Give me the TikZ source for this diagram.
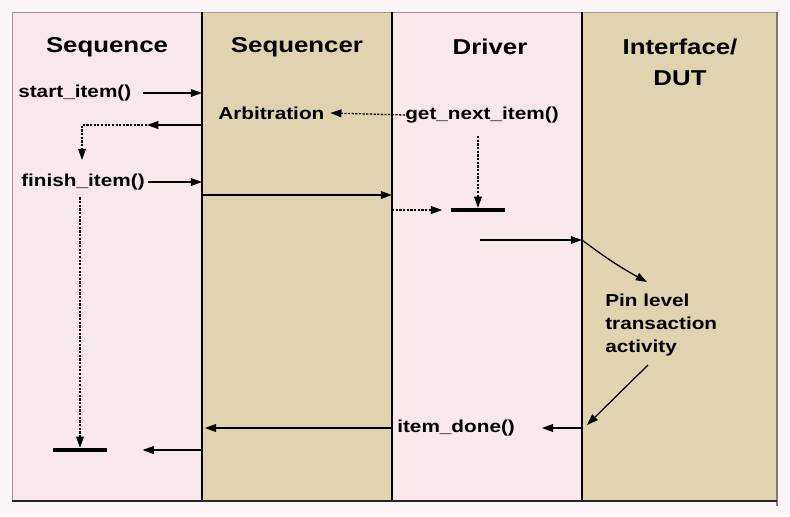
\documentclass[tikz,border=0pt]{standalone}
\usepackage{fontspec}
\setmainfont{Liberation Sans}[FakeStretch=1.2]
\usetikzlibrary{arrows.meta}

\definecolor{lanepink}{HTML}{F8E8EC}
\definecolor{lanetan}{HTML}{E0D3B0}
\definecolor{pagepink}{HTML}{FCF6F8}
\definecolor{framegray}{HTML}{A39499}

\tikzset{
  head/.style={font=\bfseries\fontsize{15.3}{22}\selectfont, inner sep=0pt},
  lbl/.style={font=\bfseries\fontsize{12.3}{16.4}\selectfont, inner sep=0pt},
  msg/.style={->, line width=0.9pt},
  wait/.style={->, line width=0.9pt, dash pattern=on 1.6pt off 1pt},
  endbar/.style={fill=black, inner sep=0pt, minimum width=38.5pt, minimum height=2.8pt},
}

\begin{document}
\begin{tikzpicture}[x=0.025cm, y=-0.025cm, >={Triangle[length=8pt,width=5.5pt]}]
    \fill[pagepink] (0,0) rectangle (790,516);
    \useasboundingbox (0,0) rectangle (790,516);

    % swim lanes
    \fill[lanepink] (12,12) rectangle (202,501);
    \fill[lanetan]  (202,12) rectangle (392,501);
    \fill[lanepink] (392,12) rectangle (582,501);
    \fill[lanetan]  (582,12) rectangle (777,501);
    \draw[framegray, line width=0.6pt] (12,501) -- (12,12) -- (777,12);
    \draw[framegray!80!black, line width=1pt] (777,12) -- (777,506);
    \coordinate (b1) at (202,12);
    \coordinate (b2) at (392,12);
    \coordinate (b3) at (582,12);
    \foreach \bb in {b1,b2,b3} {
        \draw[line width=0.9pt] (\bb) -- (\bb |- 0,501);
    }
    \draw[line width=1pt, black!85] (12,501) -- (777,501);

    % lane titles
    \node[head] (seq) at (107,47) {Sequence};
    \node[head] (sqr) at (297,47) {Sequencer};
    \node[head] (drv) at (490,47) {Driver};
    \node[head, align=center] (dut) at (680,62) {Interface/\\DUT};

    % calls
    \node[lbl, anchor=west] (start) at (18,93) {start\_item()};
    \node[lbl, anchor=west] (arb) at (218,113) {Arbitration};
    \node[lbl, anchor=west] (gni) at (405,115) {get\_next\_item()};
    \node[lbl, anchor=west] (finish) at (21,182) {finish\_item()};
    \node[lbl, anchor=west, align=left] (pin) at (605,325) {Pin level\\transaction\\activity};
    \node[lbl, anchor=west] (done) at (397,428) {item\_done()};

    \node[endbar] (dbar) at (478,210) {};
    \node[endbar] (sbar) at (80,450) {};

    \coordinate (ack) at (147,125);
    \coordinate (ackdn) at (82,160);
    \coordinate (fwd) at (202,195);
    \coordinate (pins) at (480,240);
    \coordinate (pinin) at (647,282);
    \coordinate (pinout) at (648,365);
    \coordinate (pinret) at (587,425);

    \draw[msg] ([xshift=8pt]start.east) -- (start.east -| b1);
    \draw[wait] (gni.west) -- ([xshift=4pt]arb.east);
    \draw[msg] (ack -| b1) -- (ack);
    \draw[wait] (ack) -| (ackdn);
    \draw[msg] ([xshift=2pt]finish.east) -- (finish.east -| b1);
    \draw[msg] (fwd) -- (fwd -| b2);
    \draw[wait] (dbar.west -| b2) -- ([xshift=-6pt]dbar.west);
    \draw[wait] ([yshift=-9pt]gni.south -| dbar) -- (dbar.north);
    \draw[msg] (pins) -- (pins -| b3);
    \draw[msg] (pins -| b3) to[bend right=4] (pinin);
    \draw[msg] (pinout) -- (pinret);
    \draw[msg] (done -| b3) -- ([xshift=19pt]done.east);
    \draw[msg] (done -| b2) -- ([xshift=2pt]done -| b1);
    \draw[wait] ([yshift=-5pt]finish.south -| sbar) -- (sbar.north);
    \draw[msg] (sbar -| b1) -- ([xshift=25pt]sbar.east);
\end{tikzpicture}
\end{document}
